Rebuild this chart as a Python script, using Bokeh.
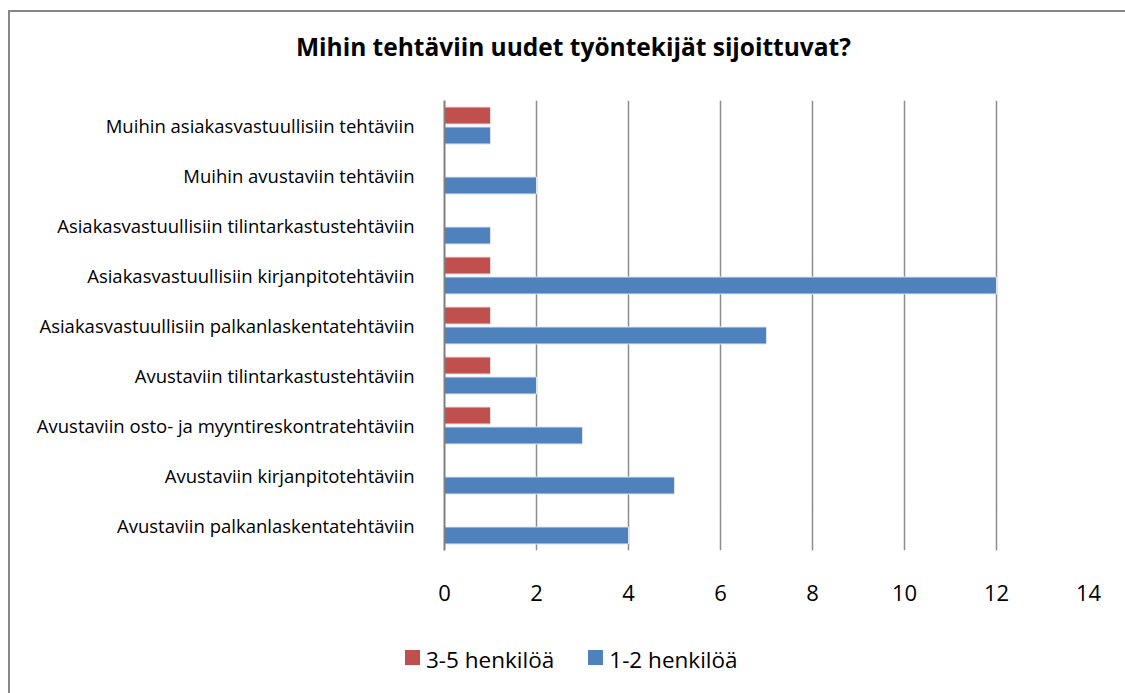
from bokeh.plotting import figure
from bokeh.models import FactorRange, ColumnDataSource, FixedTicker, Div
from bokeh.layouts import column
from bokeh.transform import dodge
from bokeh.embed import file_html
from bokeh.resources import INLINE

categories = [
    "Avustaviin palkanlaskentatehtäviin",
    "Avustaviin kirjanpitotehtäviin",
    "Avustaviin osto- ja myyntireskontratehtäviin",
    "Avustaviin tilintarkastustehtäviin",
    "Asiakasvastuullisiin palkanlaskentatehtäviin",
    "Asiakasvastuullisiin kirjanpitotehtäviin",
    "Asiakasvastuullisiin tilintarkastustehtäviin",
    "Muihin avustaviin tehtäviin",
    "Muihin asiakasvastuullisiin tehtäviin",
]
series_3_5 = [0, 0, 1, 1, 1, 1, 0, 0, 1]
series_1_2 = [4, 5, 3, 2, 7, 12, 1, 2, 1]
x_ticks = [0, 2, 4, 6, 8, 10, 12, 14]
title_text = "Mihin tehtäviin uudet työntekijät sijoittuvat?"
label_3_5 = "3-5 henkilöä"
label_1_2 = "1-2 henkilöä"

FONT = "Open Sans"
RED = "#C0504D"
BLUE = "#4F81BD"

src = ColumnDataSource(dict(cat=categories, a=series_3_5, b=series_1_2))

# ---- title ----
title_div = Div(
    text=('<div style="font-family:\'Open Sans\';font-size:24.5px;font-weight:bold;'
          'color:#000;line-height:30px;padding-top:20px;padding-left:286px;white-space:nowrap;">'
          + title_text + '</div>'),
    width=1115, height=76, margin=0,
)

# ---- main chart ----
p = figure(
    width=1115, height=532,
    y_range=FactorRange(factors=categories, range_padding=0),
    x_range=(0, 14),
    output_backend="svg", toolbar_location=None,
    min_border_left=434, min_border_right=37, min_border_top=12, min_border_bottom=70,
)
p.frame_width = 644
p.frame_height = 450
p.outline_line_color = None

r_red = p.hbar(y=dodge("cat", 0.2, range=p.y_range), right="a", left=0, height=0.34,
               source=src, fill_color=RED, line_color="#F2DCDB", line_width=1)
r_blue = p.hbar(y=dodge("cat", -0.2, range=p.y_range), right="b", left=0, height=0.34,
                source=src, fill_color=BLUE, line_color="#DCE6F2", line_width=1)

p.xaxis.ticker = FixedTicker(ticks=x_ticks)
p.xaxis.axis_line_color = None
p.xaxis.major_tick_line_color = None
p.xaxis.minor_tick_line_color = None
p.xaxis.major_label_standoff = 28
p.xaxis.major_label_text_font = FONT
p.xaxis.major_label_text_font_size = "22px"
p.xaxis.major_label_text_color = "#000000"

p.yaxis.axis_line_color = "#808080"
p.yaxis.axis_line_width = 2
p.yaxis.major_tick_line_color = None
p.yaxis.minor_tick_line_color = None
p.yaxis.major_label_standoff = 24
p.yaxis.major_label_text_font = FONT
p.yaxis.major_label_text_font_size = "18.5px"
p.yaxis.major_label_text_color = "#000000"

p.xgrid.ticker = FixedTicker(ticks=x_ticks)
p.xgrid.grid_line_color = "#8C8C8C"
p.xgrid.grid_line_width = 1.5
p.ygrid.grid_line_color = None

# ---- legend ----
def swatch(color):
    return ('<span style="display:inline-block;width:15px;height:15px;background:%s;'
            'margin-right:6px;vertical-align:middle;position:relative;top:-2px;"></span>' % color)

legend_div = Div(
    text=('<div style="font-family:\'Open Sans\';font-size:22.5px;color:#000;line-height:28px;'
          'padding-top:24px;padding-left:395px;white-space:nowrap;">'
          + swatch(RED) + '<span style="vertical-align:middle;">' + label_3_5 + '</span>'
          + '<span style="display:inline-block;width:34px;"></span>'
          + swatch(BLUE) + '<span style="vertical-align:middle;">' + label_1_2 + '</span>'
          + '</div>'),
    width=1115, height=73, margin=0,
)

layout = column(title_div, p, legend_div, spacing=0,
                styles={"margin-left": "8px", "margin-top": "10px",
                        "border-left": "2px solid #868686", "border-top": "2px solid #868686"})

open("out.html", "w").write(file_html(layout, INLINE))
